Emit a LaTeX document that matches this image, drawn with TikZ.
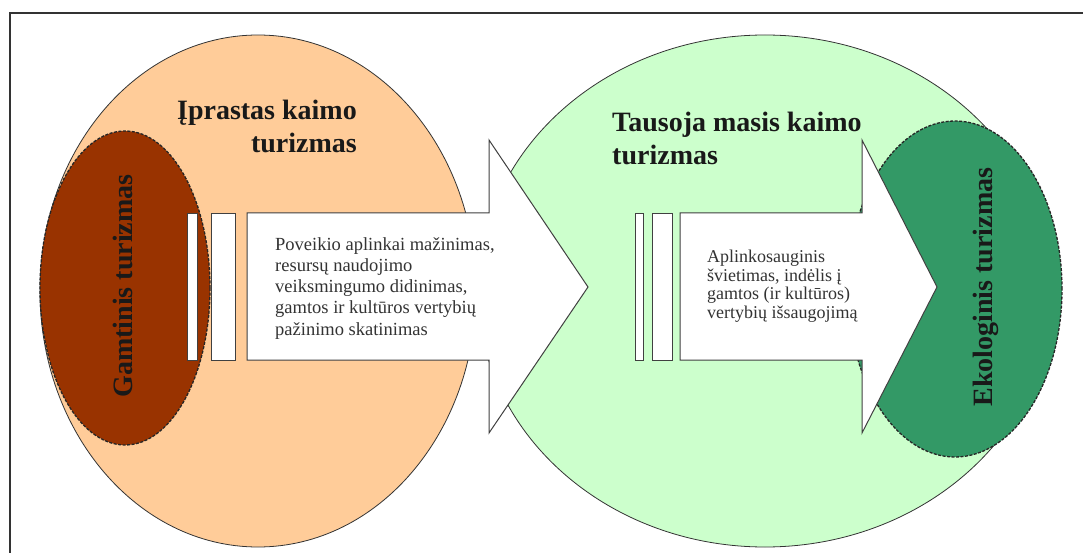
\documentclass[tikz,border=0pt]{standalone}
\usepackage{fontspec}
\setmainfont{Liberation Serif}
\usetikzlibrary{shapes.geometric}
\definecolor{peach}{HTML}{FFCC99}
\definecolor{mint}{HTML}{CCFFCC}
\definecolor{rust}{HTML}{993300}
\definecolor{forest}{HTML}{339966}

\begin{document}
\begin{tikzpicture}[
  x=1pt, y=-1pt,
  zone/.style={ellipse,draw=black!80,line width=0.8pt,inner sep=0pt},
  subzone/.style={ellipse,draw=black!85,dash pattern=on 3pt off 1.5pt,line width=1.3pt,inner sep=0pt},
  blockarr/.style={draw=black!75,fill=white,line width=1pt,line join=miter},
  bar/.style={draw=black!75,fill=white,line width=0.8pt},
  title/.style={font=\fontsize{28}{33}\selectfont\bfseries,text=black!90,inner sep=0pt},
  body/.style={font=\fontsize{18.5}{21.3}\selectfont,text=black!80,inner sep=0pt,align=left}
]
\useasboundingbox (0,0) rectangle (1083,553);
\draw[black!80,line width=1.5pt] (10,553) -- (10,13) -- (1083,13);

\node[zone,fill=peach,minimum width=436pt,minimum height=512pt] (usual) at (258,291) {};
\node[zone,fill=mint,minimum width=574pt,minimum height=512pt] (sust) at (765,291) {};
\node[subzone,fill=rust,minimum width=170pt,minimum height=314pt] (nat) at (125,288) {};
\node[subzone,fill=forest,minimum width=214pt,minimum height=336pt] (eco) at (955,289) {};

\draw[blockarr] (247,213) -- (489,213) -- (489,140) -- (588,287) -- (489,433) -- (489,360) -- (247,360) -- cycle;
\draw[bar] (187,213) rectangle (197,360);
\draw[bar] (211,213) rectangle (235,360);

\draw[blockarr] (680,213) -- (862,213) -- (862,140) -- (937,287) -- (862,433) -- (862,360) -- (680,360) -- cycle;
\draw[bar] (635,213) rectangle (643,360);
\draw[bar] (652,213) rectangle (672,360);

\node[title,anchor=base east] (usualtxt) at (357,120) {Įprastas kaimo};
\node[title,anchor=base east] (usualtxt2) at ([yshift=-33pt]usualtxt.base east) {turizmas};
\node[title,anchor=base west] (susttxt) at (612,132) {Tausoja masis kaimo};
\node[title,anchor=base west] (susttxt2) at ([yshift=-33pt]susttxt.base west) {turizmas};
\node[title,rotate=90] (nattxt) at (123,286) {Gamtinis turizmas};
\node[title,rotate=90] (ecotxt) at (986,287) {Ekologinis turizmas};

\node[body,anchor=north west] (step1) at (275,237) {Poveikio aplinkai mažinimas,\\resursų naudojimo\\veiksmingumo didinimas,\\gamtos ir kultūros vertybių\\pažinimo skatinimas};
\node[body,font=\fontsize{18}{18.5}\selectfont,anchor=north west] (step2) at (707,250) {Aplinkosauginis\\švietimas, indėlis į\\gamtos (ir kultūros)\\vertybių išsaugojimą};
\end{tikzpicture}
\end{document}
